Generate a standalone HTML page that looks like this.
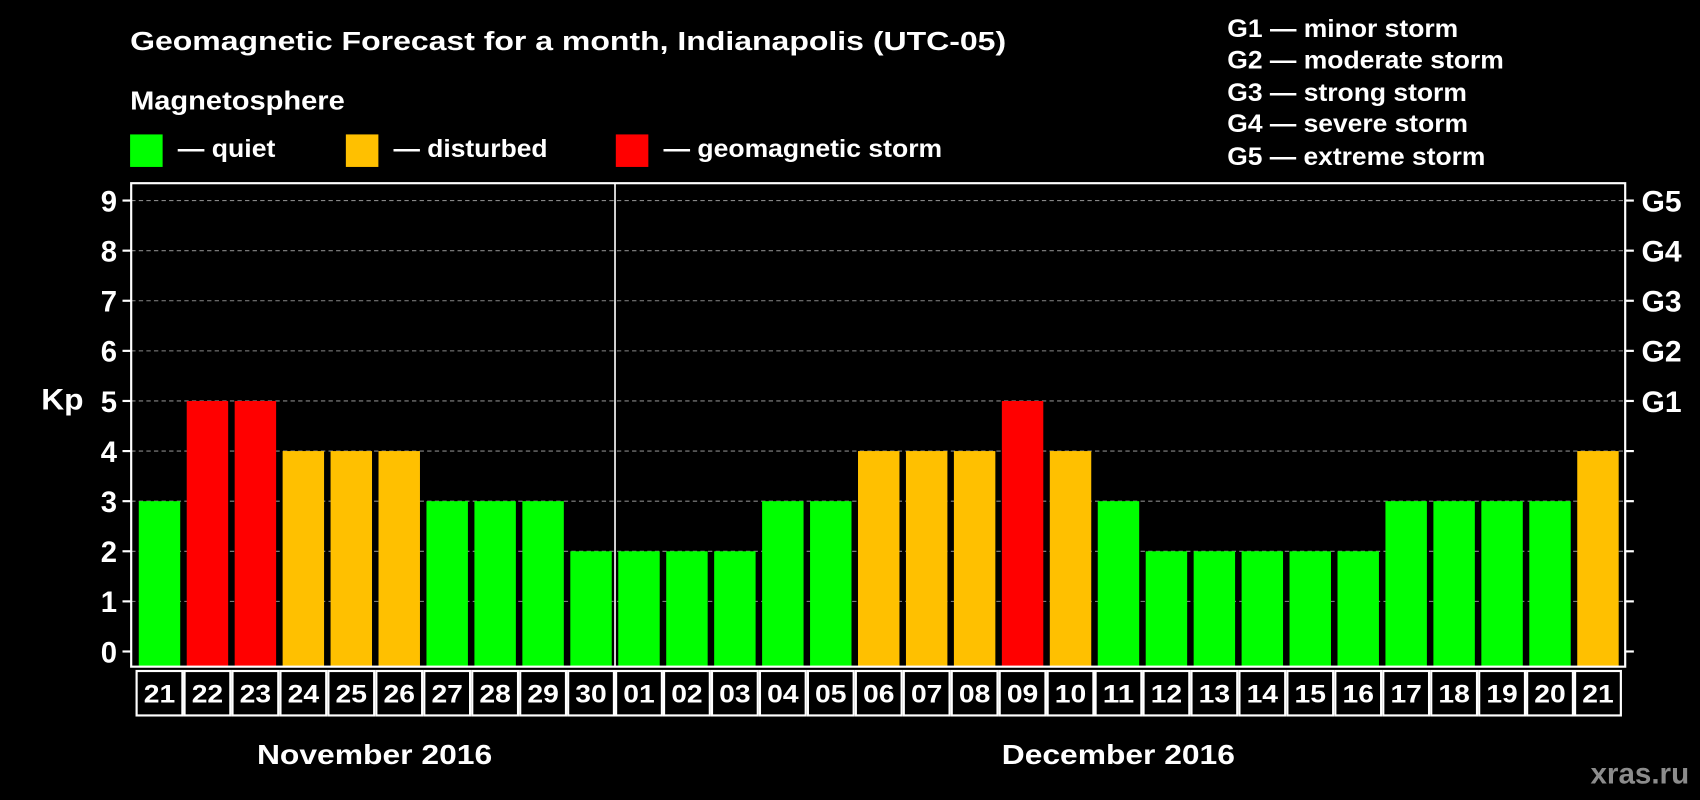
<!DOCTYPE html>
<html><head><meta charset="utf-8"><style>
html,body{margin:0;padding:0;background:#000;}
svg{display:block;}
text{font-family:"Liberation Sans",Arial,sans-serif;font-weight:bold;fill:#fff;}
</style></head><body>
<svg id="chart" width="1700" height="800" viewBox="0 0 1568 738" preserveAspectRatio="none" xmlns="http://www.w3.org/2000/svg">
<rect width="1568" height="738" fill="#000"/>
<text x="120" y="46" font-size="24" textLength="808" lengthAdjust="spacingAndGlyphs">Geomagnetic Forecast for a month, Indianapolis (UTC-05)</text>
<text x="120" y="101" font-size="24" textLength="198" lengthAdjust="spacingAndGlyphs">Magnetosphere</text>
<rect x="120" y="124" width="30" height="30" fill="#00ff00"/>
<text x="164" y="145" font-size="23" textLength="90" lengthAdjust="spacingAndGlyphs">— quiet</text>
<rect x="319" y="124" width="30" height="30" fill="#ffc000"/>
<text x="363" y="145" font-size="23" textLength="142" lengthAdjust="spacingAndGlyphs">— disturbed</text>
<rect x="568" y="124" width="30" height="30" fill="#ff0000"/>
<text x="612" y="145" font-size="23" textLength="257" lengthAdjust="spacingAndGlyphs">— geomagnetic storm</text>
<g font-size="23">
<text x="1132" y="34" textLength="213" lengthAdjust="spacingAndGlyphs">G1 — minor storm</text>
<text x="1132" y="63" textLength="255" lengthAdjust="spacingAndGlyphs">G2 — moderate storm</text>
<text x="1132" y="93" textLength="221" lengthAdjust="spacingAndGlyphs">G3 — strong storm</text>
<text x="1132" y="122" textLength="222" lengthAdjust="spacingAndGlyphs">G4 — severe storm</text>
<text x="1132" y="152" textLength="238" lengthAdjust="spacingAndGlyphs">G5 — extreme storm</text>
</g>
<text x="38" y="378" font-size="27" textLength="39" lengthAdjust="spacingAndGlyphs">Kp</text>
<text x="1467" y="723" font-size="27" textLength="91" lengthAdjust="spacingAndGlyphs" style="fill:#8c8c8c">xras.ru</text>
<text x="237" y="705" font-size="26" textLength="217" lengthAdjust="spacingAndGlyphs">November 2016</text>
<text x="924" y="705" font-size="26" textLength="215" lengthAdjust="spacingAndGlyphs">December 2016</text>
<g id="plot"></g>
</svg>
<script>
const days = ["21","22","23","24","25","26","27","28","29","30","01","02","03","04","05","06","07","08","09","10","11","12","13","14","15","16","17","18","19","20","21"];
const kpValues = [3,5,5,4,4,4,3,3,3,2,2,2,2,3,3,4,4,4,5,4,3,2,2,2,2,2,3,3,3,3,4];
const yTicks = [0,1,2,3,4,5,6,7,8,9];
const gLabels = ["G1","G2","G3","G4","G5"];
const gLevels = [5,6,7,8,9];

const NS="http://www.w3.org/2000/svg";
const g=document.getElementById('plot');
const L=121,R=1499,T=169,B=615;
const y=v=>601-(601-185)*v/9;
const step=(1496-125)/days.length;
const x=i=>125+i*step;
function mk(t,a){const e=document.createElementNS(NS,t);for(const k in a)e.setAttribute(k,a[k]);g.appendChild(e);return e;}
yTicks.forEach(v=>{
  if(v>0){const gl=mk('line',{x1:L,x2:R,y1:y(v),y2:y(v),stroke:'#888','stroke-dasharray':'4,3','stroke-width':1});
  
  }
  const t1=mk('line',{x1:L-8,x2:L,y1:y(v),y2:y(v),stroke:'#fff','stroke-width':2});
  
  
  const t2=mk('line',{x1:R,x2:R+8,y1:y(v),y2:y(v),stroke:'#fff','stroke-width':2});
  
  
  const lb=mk('text',{x:L-13,y:y(v)+10,'font-size':27,'text-anchor':'end'});lb.textContent=v;
  
  
});
gLabels.forEach((s,i)=>{
  const lb=mk('text',{x:R+15,y:y(gLevels[i])+10,'font-size':27,textLength:37,lengthAdjust:'spacingAndGlyphs'});lb.textContent=s;
  
  
});
kpValues.forEach((v,i)=>{
  const c=v>=5?'#ff0000':(v>=4?'#ffc000':'#00ff00');
  const b=mk('rect',{x:x(i)+3,y:y(v),width:step-6,height:B-y(v),fill:c});
  
  
  const cell=mk('rect',{x:x(i)+1,y:619,width:step-2,height:41,fill:'none',stroke:'#fff','stroke-width':2});
  
  
  const t=mk('text',{x:x(i)+step/2,y:648,'font-size':23,'text-anchor':'middle',textLength:29,lengthAdjust:'spacingAndGlyphs'});t.textContent=days[i];
  
  
});
const fr=mk('rect',{x:L,y:T,width:R-L,height:B-T,fill:'none',stroke:'#fff','stroke-width':2});


const sep=mk('line',{x1:x(10),x2:x(10),y1:T,y2:B,stroke:'#fff','stroke-width':1.5});


</script>
</body></html>
